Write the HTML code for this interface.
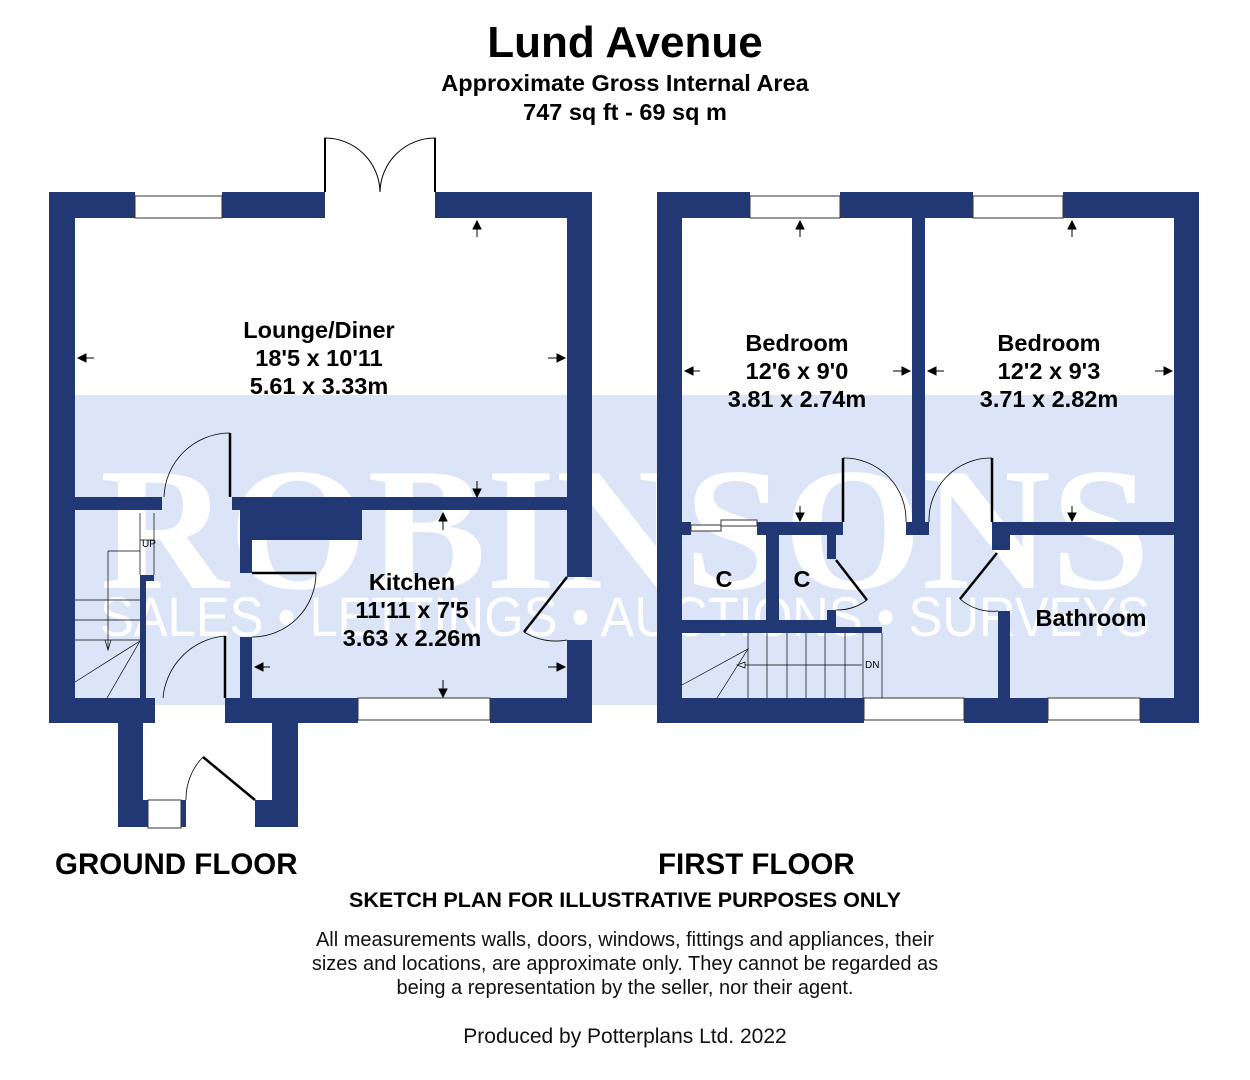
<!DOCTYPE html>
<html><head><meta charset="utf-8"><style>
html,body{margin:0;padding:0;background:#fff;}
svg{display:block;font-family:"Liberation Sans",sans-serif;}
</style></head><body>
<svg width="1250" height="1080" viewBox="0 0 1250 1080" xmlns="http://www.w3.org/2000/svg">
<rect width="1250" height="1080" fill="#fff"/>
<rect x="75" y="395" width="1100" height="310" fill="#dbe5f7"/>
<text x="625" y="588" text-anchor="middle" font-family="Liberation Serif,serif" font-weight="bold" font-size="175" fill="#fff" textLength="1050" lengthAdjust="spacingAndGlyphs">ROBINSONS</text>
<text x="625" y="636" text-anchor="middle" font-size="56" fill="#fff" textLength="1050" lengthAdjust="spacingAndGlyphs">SALES • LETTINGS • AUCTIONS • SURVEYS</text>

<g fill="#213874">
<rect x="49" y="192" width="86" height="26"/>
<rect x="222" y="192" width="103" height="26"/>
<rect x="435" y="192" width="157" height="26"/>
<rect x="49" y="192" width="26" height="531"/>
<rect x="567" y="192" width="25" height="385"/>
<rect x="567" y="640" width="25" height="83"/>
<rect x="49" y="698" width="106" height="25"/>
<rect x="225" y="698" width="133" height="25"/>
<rect x="490" y="698" width="102" height="25"/>
<rect x="75" y="497" width="87" height="13"/>
<rect x="232" y="497" width="335" height="13"/>
<rect x="240" y="510" width="122" height="30"/>
<rect x="240" y="510" width="12" height="63"/>
<rect x="240" y="637" width="12" height="61"/>
<rect x="140" y="575" width="6" height="123"/>
<rect x="140" y="575" width="14" height="6"/>
<rect x="118" y="698" width="25" height="129"/>
<rect x="272" y="698" width="26" height="129"/>
<rect x="118" y="800" width="30" height="27"/>
<rect x="181" y="800" width="5" height="27"/>
<rect x="255" y="800" width="43" height="27"/>
<rect x="143" y="698" width="12" height="12"/>

<rect x="657" y="192" width="93" height="26"/>
<rect x="840" y="192" width="133" height="26"/>
<rect x="1063" y="192" width="136" height="26"/>
<rect x="657" y="192" width="25" height="531"/>
<rect x="1174" y="192" width="25" height="531"/>
<rect x="657" y="698" width="207" height="25"/>
<rect x="964" y="698" width="84" height="25"/>
<rect x="1140" y="698" width="59" height="25"/>
<rect x="912" y="218" width="13" height="317"/>
<rect x="682" y="522" width="9" height="13"/>
<rect x="757" y="522" width="86" height="13"/>
<rect x="906" y="522" width="23" height="13"/>
<rect x="992" y="522" width="182" height="13"/>
<rect x="766" y="535" width="13" height="90"/>
<rect x="682" y="620" width="154" height="13"/>
<rect x="836" y="627" width="46" height="6"/>
<rect x="827" y="535" width="9" height="24"/>
<rect x="827" y="610" width="9" height="12"/>
<rect x="992" y="535" width="18" height="15"/>
<rect x="998" y="611" width="12" height="87"/>
</g>

<g fill="#fff" stroke="#333" stroke-width="1">
<rect x="135" y="196" width="87" height="22"/>
<rect x="750" y="196" width="90" height="22"/>
<rect x="973" y="196" width="90" height="22"/>
<rect x="358" y="698" width="132" height="22"/>
<rect x="864" y="698" width="100" height="22"/>
<rect x="1048" y="698" width="92" height="22"/>
<rect x="148" y="800" width="33" height="28"/>
<rect x="691" y="525" width="30" height="6"/>
<rect x="721" y="520" width="36" height="6"/>
</g>

<g fill="none" stroke="#000">
<path d="M325 192 V138 A55 55 0 0 1 380 192" stroke-width="1"/>
<path d="M435 192 V138 A55 55 0 0 0 380 192" stroke-width="1"/>
<path d="M325 192 V138 M435 192 V138" stroke-width="2"/>
<path d="M230 497 V433" stroke-width="2.5"/>
<path d="M230 433 A66 66 0 0 0 164 497" stroke-width="0.8"/>
<path d="M252 573 H316" stroke-width="2.5"/>
<path d="M316 573 A64 64 0 0 1 252 637" stroke-width="0.8"/>
<path d="M225 698 V636" stroke-width="2.5"/>
<path d="M225 636 A68 68 0 0 0 163 698" stroke-width="0.8"/>
<path d="M567 577 L524 632" stroke-width="2.5"/>
<path d="M524 632 A60 60 0 0 0 567 640" stroke-width="0.8"/>
<path d="M203 757 L255 800" stroke-width="2.5"/>
<path d="M203 757 A60 60 0 0 0 186 800" stroke-width="0.8"/>
<g stroke-width="0.7">
<path d="M75 600 H140 M75 620 H140 M75 640 H140 M108 551 H140 M108 551 V650 M140 513 V575 M140 540 H154 M154 513 V575"/>
<path d="M75 682 L140 641 L107 698"/>
<path d="M105 640 l3 10 l3 -10"/>
</g>
<path d="M843 522 V458" stroke-width="2.5"/>
<path d="M843 458 A62 62 0 0 1 906 522" stroke-width="0.8"/>
<path d="M992 522 V458" stroke-width="2.5"/>
<path d="M992 458 A62 62 0 0 0 929 522" stroke-width="0.8"/>
<path d="M836 560 L867 600" stroke-width="2.5"/>
<path d="M867 600 A50 50 0 0 1 836 610" stroke-width="0.8"/>
<path d="M997 553 L960 599" stroke-width="2.5"/>
<path d="M960 599 A50 50 0 0 0 998 611" stroke-width="0.8"/>
<g stroke-width="0.7">
<path d="M748 633 V698 M767 633 V698 M787 633 V698 M806 633 V698 M825 633 V698 M845 633 V698 M863 633 V698 M882 633 V698"/>
<path d="M682 685 L748 649 L717 698"/>
<path d="M745 665 H862"/>
<path d="M745 662 l-8 3 l8 3 z"/>
</g>
</g>

<g stroke="#000" stroke-width="1" fill="#000">
<path d="M477 237 V222"/><path d="M473 229 l4 -8 l4 8z"/>
<path d="M477 481 V496"/><path d="M473 489 l4 8 l4 -8z"/>
<path d="M443 530 V513"/><path d="M439 521 l4 -8 l4 8z"/>
<path d="M443 680 V697"/><path d="M439 689 l4 8 l4 -8z"/>
<path d="M78 358 H94"/><path d="M86 354 l-8 4 l8 4z"/>
<path d="M548 358 H565"/><path d="M557 354 l8 4 l-8 4z"/>
<path d="M255 667 H270"/><path d="M263 663 l-8 4 l8 4z"/>
<path d="M548 667 H565"/><path d="M557 663 l8 4 l-8 4z"/>
<path d="M800 237 V222"/><path d="M796 229 l4 -8 l4 8z"/>
<path d="M800 506 V521"/><path d="M796 513 l4 8 l4 -8z"/>
<path d="M1072 237 V222"/><path d="M1068 229 l4 -8 l4 8z"/>
<path d="M1072 506 V521"/><path d="M1068 513 l4 8 l4 -8z"/>
<path d="M685 371 H700"/><path d="M693 367 l-8 4 l8 4z"/>
<path d="M893 371 H910"/><path d="M902 367 l8 4 l-8 4z"/>
<path d="M928 371 H944"/><path d="M936 367 l-8 4 l8 4z"/>
<path d="M1155 371 H1172"/><path d="M1164 367 l8 4 l-8 4z"/>
</g>

<g font-size="10" fill="#000">
<text x="142" y="547">UP</text>
<text x="865" y="668">DN</text>
</g>

<g font-weight="bold" fill="#000" text-anchor="middle">
<text x="625" y="57" font-size="44">Lund Avenue</text>
<text x="625" y="91" font-size="23.5">Approximate Gross Internal Area</text>
<text x="625" y="120" font-size="23.5">747 sq ft - 69 sq m</text>
<g font-size="23.5">
<text x="319" y="338">Lounge/Diner</text>
<text x="319" y="366">18'5 x 10'11</text>
<text x="319" y="394">5.61 x 3.33m</text>
<text x="797" y="351">Bedroom</text>
<text x="797" y="379">12'6 x 9'0</text>
<text x="797" y="407">3.81 x 2.74m</text>
<text x="1049" y="351">Bedroom</text>
<text x="1049" y="379">12'2 x 9'3</text>
<text x="1049" y="407">3.71 x 2.82m</text>
<text x="412" y="590">Kitchen</text>
<text x="412" y="618">11'11 x 7'5</text>
<text x="412" y="646">3.63 x 2.26m</text>
<text x="1091" y="626">Bathroom</text>
<text x="724" y="587">C</text>
<text x="802" y="587">C</text>
</g>
<text x="625" y="907" font-size="21.5">SKETCH PLAN FOR ILLUSTRATIVE PURPOSES ONLY</text>
</g>
<g font-weight="bold" font-size="29.5" fill="#000">
<text x="55" y="874">GROUND FLOOR</text>
<text x="658" y="874">FIRST FLOOR</text>
</g>
<g font-size="20" fill="#111" text-anchor="middle">
<text x="625" y="946">All measurements walls, doors, windows, fittings and appliances, their</text>
<text x="625" y="970">sizes and locations, are approximate only. They cannot be regarded as</text>
<text x="625" y="994">being a representation by the seller, nor their agent.</text>
<text x="625" y="1043" font-size="21">Produced by Potterplans Ltd. 2022</text>
</g>
</svg>
</body></html>
